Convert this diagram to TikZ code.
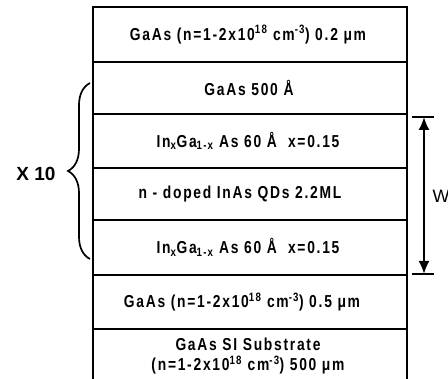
\documentclass[tikz,border=0pt]{standalone}
\usepackage{fontspec}
\setmainfont{Liberation Sans}[FakeStretch=0.8,LetterSpace=10]
\newfontfamily\plainfont{Liberation Sans}
\usetikzlibrary{arrows.meta,decorations.pathreplacing}
\tikzset{
  layertext/.style={font=\fontsize{17.3}{20.5}\selectfont\bfseries, align=center, inner sep=0pt},
  sidetext/.style={font=\plainfont\fontsize{19}{20}\selectfont\bfseries, inner sep=0pt},
  layerline/.style={line width=2.7pt},
}
\newcommand{\dop}{(n=1-2x10\textsuperscript{18} cm\textsuperscript{-3})}
\begin{document}
\begin{tikzpicture}[x=1pt,y=-1pt]
\useasboundingbox (0,0) rectangle (448,379);
% stack outline
\coordinate (TL) at (93,7);
\coordinate (TR) at (407,7);
\draw[layerline] (93,379) -- (TL) -- (TR) -- (407,379);
\foreach \y in {62,114,168,220,275,329} \draw[layerline] (93,\y) -- (407,\y);
% layer texts
\node[layertext] (l1) at (248,34.5) {GaAs \dop{} 0.2 μm};
\node[layertext] (l2) at (249,88) {GaAs 500 Å};
\node[layertext] (l3) at (248,141) {In\textsubscript{x}Ga\textsubscript{1-x} As 60 Å\ \ x=0.15};
\node[layertext] (l4) at (240,194) {n - doped InAs QDs 2.2ML};
\node[layertext] (l5) at (248,247.5) {In\textsubscript{x}Ga\textsubscript{1-x} As 60 Å\ \ x=0.15};
\node[layertext] (l6) at (242,302) {GaAs \dop{} 0.5 μm};
\node[layertext] (l7) at (248,356) {GaAs SI Substrate\\\dop{} 500 μm};
% brace
\coordinate (bb) at (90,259);
\coordinate (bt) at (90,83);
\draw[line width=1.7pt, decorate, decoration={brace, amplitude=22pt}] (bb) -- (bt);
\node[sidetext] (x10) at (36,174) {X 10};
% W arrow
\coordinate (wt) at (424,117);
\coordinate (wb) at (424,274);
\draw[line width=1.5pt] (412,117) -- (434,117);
\draw[line width=1.5pt] (412,274) -- (434,274);
\draw[line width=2pt, {Latex[length=13pt,width=11pt]}-{Latex[length=13pt,width=11pt]}] (wt) -- (wb);
\node[font=\plainfont\fontsize{18}{18}\selectfont, inner sep=0pt] (w) at (441,196) {W};
\end{tikzpicture}
\end{document}
